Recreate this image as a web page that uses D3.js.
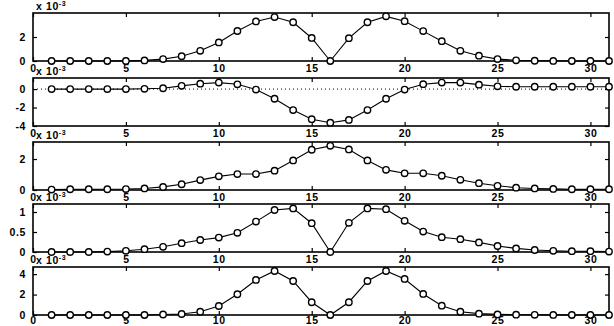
<html>
<head>
    <title>Stacked series</title>
    <script src="https://d3js.org/d3.v7.min.js"></script>
    <style>
        body { margin: 0; background: #fff; }
        text { font-family: "Liberation Sans", Arial, sans-serif; font-size: 10.5px; font-weight: bold; letter-spacing: 0.6px; fill: #000; }
    </style>
</head>
<body>
<svg id="chart"></svg>
<script>
    // x positions of the samples
    var xValues = [1, 2, 3, 4, 5, 6, 7, 8, 9, 10, 11, 12, 13, 14, 15, 16, 17, 18, 19, 20, 21, 22, 23, 24, 25, 26, 27, 28, 29, 30, 31];
    var xTicks = [0, 5, 10, 15, 20, 25, 30];

    // series values, shown in units of 10^-3
    var series1 = [0, 0, 0, 0, 0.01, 0.05, 0.16, 0.4, 0.85, 1.55, 2.5, 3.3, 3.66, 3.23, 1.92, 0, 1.9, 3.23, 3.72, 3.32, 2.49, 1.65, 0.85, 0.44, 0.16, 0.06, 0.02, 0.01, 0, 0, 0];
    var series2 = [0, 0, 0, 0, 0, 0.03, 0.09, 0.35, 0.58, 0.7, 0.52, -0.05, -1.05, -2.27, -3.26, -3.64, -3.34, -2.27, -1.05, -0.05, 0.53, 0.7, 0.7, 0.48, 0.3, 0.25, 0.25, 0.25, 0.25, 0.25, 0.25];
    var series3 = [0.03, 0.05, 0.05, 0.05, 0.06, 0.1, 0.2, 0.37, 0.64, 0.88, 1.03, 1.03, 1.25, 1.91, 2.6, 2.85, 2.62, 1.91, 1.3, 1.08, 1.08, 0.92, 0.66, 0.44, 0.27, 0.15, 0.1, 0.07, 0.05, 0.05, 0.05];
    var series4 = [0, 0, 0, 0.01, 0.03, 0.07, 0.13, 0.22, 0.3, 0.36, 0.48, 0.76, 1.05, 1.09, 0.72, 0, 0.73, 1.09, 1.07, 0.78, 0.51, 0.37, 0.32, 0.24, 0.15, 0.09, 0.05, 0.03, 0.02, 0.02, 0.01];
    var series5 = [0, 0, 0, 0, 0, 0, 0.05, 0.1, 0.32, 0.88, 2.03, 3.43, 4.31, 3.33, 1.25, 0, 1.25, 3.33, 4.31, 3.53, 2.06, 0.91, 0.32, 0.13, 0.06, 0.03, 0.02, 0.01, 0, 0, 0];

    var yDomains = [[0, 4], [-4, 1.2], [0, 3.1], [0, 1.2], [0, 4.7]];
    var yTicks = [[0, 2], [-4, -2, 0], [0, 2], [0, 0.5, 1], [0, 2, 4]];
    var exponent = "-3";

    var allSeries = [series1, series2, series3, series4, series5];

    var width = 614, height = 326;
    var left = 33, right = 609;
    var tops = [13, 78, 142, 204, 267], panelHeight = 48;

    var svg = d3.select("#chart").attr("width", width).attr("height", height);

    var x = d3.scaleLinear().domain([0, 31]).range([left, right]);
    var plain = function (d) { return String(d); };

    allSeries.forEach(function (data, i) {
        var top = tops[i];
        var y = d3.scaleLinear().domain(yDomains[i]).range([top + panelHeight, top]);
        var g = svg.append("g");
        var last = i === allSeries.length - 1;

        // zero line for the signed panel
        if (yDomains[i][0] < 0) {
            g.append("line")
                .attr("x1", left).attr("x2", right)
                .attr("y1", y(0)).attr("y2", y(0))
                .attr("stroke", "#000").attr("stroke-width", 1)
                .attr("stroke-dasharray", "1,3");
        }

        // ticks inside on all four sides
        g.append("g")
            .attr("transform", "translate(0," + (top + panelHeight) + ")")
            .call(d3.axisBottom(x).tickValues(xTicks).tickSizeInner(-4).tickSizeOuter(0).tickPadding(last ? 2 : 4).tickFormat(plain));
        g.append("g")
            .attr("transform", "translate(0," + top + ")")
            .call(d3.axisTop(x).tickValues(xTicks).tickSizeInner(-4).tickSizeOuter(0).tickFormat(""));
        g.append("g")
            .attr("transform", "translate(" + left + ",0)")
            .call(d3.axisLeft(y).tickValues(yTicks[i]).tickSizeInner(-4).tickSizeOuter(0).tickPadding(7).tickFormat(plain));
        g.append("g")
            .attr("transform", "translate(" + right + ",0)")
            .call(d3.axisRight(y).tickValues(yTicks[i]).tickSizeInner(-4).tickSizeOuter(0).tickFormat(""));
        g.selectAll(".domain").remove();
        g.selectAll(".tick line").attr("stroke", "#000").attr("stroke-width", 1.2);
        g.selectAll(".tick text").attr("fill", "#000").style("font-size", "10.5px");

        // box
        g.append("rect")
            .attr("x", left).attr("y", top)
            .attr("width", right - left).attr("height", panelHeight)
            .attr("fill", "none").attr("stroke", "#000").attr("stroke-width", 1.6);

        // scale factor label
        var lab = g.append("text")
            .attr("x", left + 3).attr("y", top - 3);
        lab.append("tspan").text("x 10");
        lab.append("tspan").attr("dy", -4).style("font-size", "7px").text(exponent);

        var line = d3.line()
            .x(function (d, j) { return x(xValues[j]); })
            .y(function (d) { return y(d); });

        g.append("path")
            .datum(data)
            .attr("d", line)
            .attr("fill", "none")
            .attr("stroke", "#000")
            .attr("stroke-width", 1.1);

        g.selectAll("circle")
            .data(data)
            .enter()
            .append("circle")
            .attr("cx", function (d, j) { return x(xValues[j]); })
            .attr("cy", function (d) { return y(d); })
            .attr("r", 3.2)
            .attr("fill", "#fff")
            .attr("stroke", "#000")
            .attr("stroke-width", 1.4);
    });
</script>
</body>
</html>
